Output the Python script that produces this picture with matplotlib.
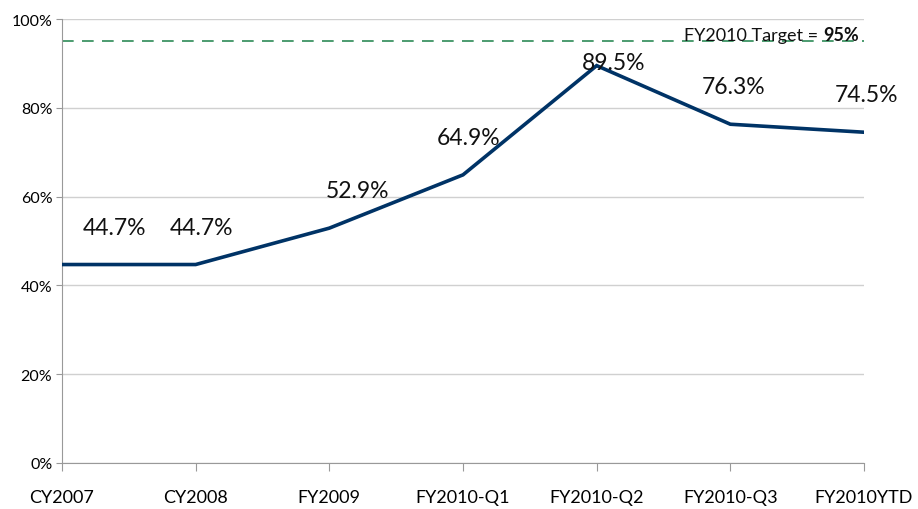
import matplotlib
matplotlib.use("Agg")
import matplotlib.pyplot as plt
from matplotlib.ticker import FuncFormatter

categories = ["CY2007", "CY2008", "FY2009", "FY2010-Q1", "FY2010-Q2", "FY2010-Q3", "FY2010YTD"]
values = [44.7, 44.7, 52.9, 64.9, 89.5, 76.3, 74.5]
labels = ["44.7%", "44.7%", "52.9%", "64.9%", "89.5%", "76.3%", "74.5%"]
target = 95
yticks = [0, 20, 40, 60, 80, 100]

plt.rcParams['font.family'] = ['Lato', 'DejaVu Sans']

fig = plt.figure(figsize=(9.18, 5.10), dpi=100)
ax = fig.add_axes([62/918, 46/510, (864-62)/918, (464-20)/510])

x = list(range(len(categories)))
ax.plot(x, values, color="#003366", lw=2.6, zorder=3, solid_joinstyle="miter")
ax.axhline(target, color="#2E8B57", lw=1.2, ls=(0, (7, 5)), zorder=2)

# composite target label: normal + bold
ty = target - 0.5
t1 = ax.text(5.96, ty, "95%", ha="right", va="bottom", fontsize=13,
             fontweight="bold", color="#111111", zorder=4)
fig.canvas.draw()
bb = t1.get_window_extent()
inv = ax.transData.inverted()
xl = inv.transform((bb.x0 - 1, bb.y0))[0]
ax.text(xl, ty, "FY2010 Target =", ha="right", va="bottom", fontsize=13,
        color="#111111", zorder=4)

offsets = [(38, 27), (4, 27), (20, 27), (4, 27), (12, 2), (2, 27), (2, 27)]
for xi, v, lab, (dx, dy) in zip(x, values, labels, offsets):
    ax.annotate(lab, (xi, v), xytext=(dx, dy), textcoords="offset points",
                ha="center", va="center", fontsize=16.5, color="#111111", annotation_clip=False)

ax.set_xlim(0, 6)
ax.set_ylim(0, 100)
ax.set_yticks(yticks)
ax.yaxis.set_major_formatter(FuncFormatter(lambda v, p: f"{int(v)}%"))
ax.set_xticks(x)
ax.set_xticklabels(categories, fontsize=13)
ax.tick_params(axis="y", labelsize=11.5, length=4, color="#999999", pad=3)
ax.tick_params(axis="x", length=6, color="#999999", pad=13)
ax.grid(axis="y", color="#d0d0d0", lw=1)
ax.set_axisbelow(True)
for s in ["top", "right"]:
    ax.spines[s].set_visible(False)
for s in ["left", "bottom"]:
    ax.spines[s].set_color("#999999")

fig.savefig("out.png", dpi=100)
